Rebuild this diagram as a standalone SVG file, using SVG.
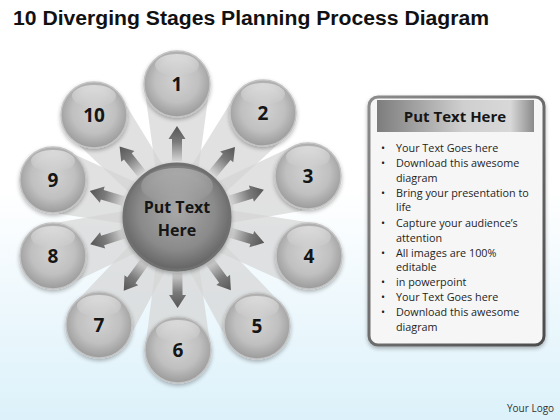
<svg xmlns="http://www.w3.org/2000/svg" xmlns:xlink="http://www.w3.org/1999/xlink" width="560" height="420" viewBox="0 0 560 420">
  <defs>
    <linearGradient id="bg" x1="0" y1="0" x2="0" y2="1">
      <stop offset="0" stop-color="#ffffff"/>
      <stop offset="0.45" stop-color="#ffffff"/>
      <stop offset="1" stop-color="#dcf1fa"/>
    </linearGradient>
    <radialGradient id="ball" cx="0.5" cy="0.45" r="0.55">
      <stop offset="0" stop-color="#d2d2d2"/>
      <stop offset="0.6" stop-color="#c0c0c0"/>
      <stop offset="0.9" stop-color="#a4a4a4"/>
      <stop offset="1" stop-color="#9a9a9a"/>
    </radialGradient>
    <radialGradient id="hub" cx="0.5" cy="0.45" r="0.6">
      <stop offset="0" stop-color="#a8a8a8"/>
      <stop offset="0.6" stop-color="#8a8a8a"/>
      <stop offset="0.9" stop-color="#666666"/>
      <stop offset="1" stop-color="#555555"/>
    </radialGradient>
    <linearGradient id="shine" x1="0" y1="0" x2="0" y2="1">
      <stop offset="0" stop-color="#ffffff" stop-opacity="0.5"/>
      <stop offset="1" stop-color="#ffffff" stop-opacity="0"/>
    </linearGradient>
    <linearGradient id="arrowGrad" x1="56" y1="0" x2="91" y2="0" gradientUnits="userSpaceOnUse">
      <stop offset="0" stop-color="#d4d4d4"/>
      <stop offset="0.55" stop-color="#7a7a7a"/>
      <stop offset="1" stop-color="#555555"/>
    </linearGradient>
    <linearGradient id="header" x1="0" y1="0" x2="1" y2="0">
      <stop offset="0" stop-color="#7d7d7d"/>
      <stop offset="0.55" stop-color="#cfcfcf"/>
      <stop offset="0.85" stop-color="#d8d8d8"/>
      <stop offset="1" stop-color="#8a8a8a"/>
    </linearGradient>
    <linearGradient id="frame" x1="0" y1="0" x2="1" y2="1">
      <stop offset="0" stop-color="#8c8c8c"/>
      <stop offset="1" stop-color="#4d4d4d"/>
    </linearGradient>
    <filter id="shadow" x="-30%" y="-30%" width="160%" height="160%">
      <feGaussianBlur in="SourceAlpha" stdDeviation="2"/>
      <feOffset dx="0" dy="2" result="b"/>
      <feComponentTransfer><feFuncA type="linear" slope="0.3"/></feComponentTransfer>
      <feMerge><feMergeNode/><feMergeNode in="SourceGraphic"/></feMerge>
    </filter>
    <path id="arrow" d="M56,-5 L78,-5 L78,-8.5 L91,0 L78,8.5 L78,5 L56,5 Z" fill="url(#arrowGrad)"/>
    <polygon id="beam" points="0,-15 133,-33 133,33 0,15"/>
    <style>
      .beam { fill: #d4d4d4; fill-opacity: 0.7; }
      .ball { fill: url(#ball); stroke: #c4c4c4; stroke-width: 1.5; filter: url(#shadow); }
      .hl { fill: url(#shine); }
      .num { font-family: "Open Sans", "Liberation Sans", sans-serif; font-weight: bold; font-size: 19px; fill: #151515; text-anchor: middle; }
      .hubtxt { font-family: "Open Sans", "Liberation Sans", sans-serif; font-weight: bold; font-size: 16px; fill: #151515; text-anchor: middle; }
      .body { font-family: "Open Sans", "Liberation Sans", sans-serif; font-size: 10.8px; fill: #1e1e1e; }
    </style>
  </defs>

  <rect width="560" height="420" fill="url(#bg)"/>

  <text x="13" y="25" font-family="'Liberation Sans', Arial, sans-serif" font-weight="bold" font-size="20" fill="#111111" textLength="476" lengthAdjust="spacingAndGlyphs">10 Diverging Stages Planning Process Diagram</text>

  <g id="connectors">
    <g id="beams">
      <use href="#beam" class="beam" transform="translate(177,217) rotate(-90)"/>
      <use href="#beam" class="beam" transform="translate(177,217) rotate(-50.4)"/>
      <use href="#beam" class="beam" transform="translate(177,217) rotate(-17.4)"/>
      <use href="#beam" class="beam" transform="translate(177,217) rotate(16.5)"/>
      <use href="#beam" class="beam" transform="translate(177,217) rotate(53.7)"/>
      <use href="#beam" class="beam" transform="translate(177,217) rotate(89.6)"/>
      <use href="#beam" class="beam" transform="translate(177,217) rotate(125.8)"/>
      <use href="#beam" class="beam" transform="translate(177,217) rotate(162.5)"/>
      <use href="#beam" class="beam" transform="translate(177,217) rotate(196.6)"/>
      <use href="#beam" class="beam" transform="translate(177,217) rotate(230.9)"/>
    </g>
    <g id="arrows">
      <use href="#arrow" transform="translate(177,217) rotate(-90)"/>
      <use href="#arrow" transform="translate(177,217) rotate(-50.4)"/>
      <use href="#arrow" transform="translate(177,217) rotate(-17.4)"/>
      <use href="#arrow" transform="translate(177,217) rotate(16.5)"/>
      <use href="#arrow" transform="translate(177,217) rotate(53.7)"/>
      <use href="#arrow" transform="translate(177,217) rotate(89.6)"/>
      <use href="#arrow" transform="translate(177,217) rotate(125.8)"/>
      <use href="#arrow" transform="translate(177,217) rotate(162.5)"/>
      <use href="#arrow" transform="translate(177,217) rotate(196.6)"/>
      <use href="#arrow" transform="translate(177,217) rotate(230.9)"/>
    </g>
  </g>

  <g id="hub">
    <circle cx="177" cy="217" r="53" fill="url(#hub)" stroke="#6f6f6f" stroke-width="3" filter="url(#shadow)"/>
    <ellipse cx="177" cy="186" rx="36" ry="18" fill="url(#shine)" opacity="0.6"/>
    <text class="hubtxt" x="177" y="213">Put Text</text>
    <text class="hubtxt" x="177" y="236">Here</text>
  </g>

  <g id="node1"><circle class="ball" cx="177" cy="84" r="33"/><ellipse class="hl" cx="177" cy="65" rx="22" ry="11"/><text class="num" x="177" y="91">1</text></g>
  <g id="node2"><circle class="ball" cx="263" cy="113" r="33"/><ellipse class="hl" cx="263" cy="94" rx="22" ry="11"/><text class="num" x="263" y="120">2</text></g>
  <g id="node3"><circle class="ball" cx="308" cy="176" r="33"/><ellipse class="hl" cx="308" cy="157" rx="22" ry="11"/><text class="num" x="308" y="183">3</text></g>
  <g id="node4"><circle class="ball" cx="309" cy="256" r="33"/><ellipse class="hl" cx="309" cy="237" rx="22" ry="11"/><text class="num" x="309" y="263">4</text></g>
  <g id="node5"><circle class="ball" cx="257" cy="326" r="33"/><ellipse class="hl" cx="257" cy="307" rx="22" ry="11"/><text class="num" x="257" y="333">5</text></g>
  <g id="node6"><circle class="ball" cx="178" cy="350" r="33"/><ellipse class="hl" cx="178" cy="331" rx="22" ry="11"/><text class="num" x="178" y="357">6</text></g>
  <g id="node7"><circle class="ball" cx="99" cy="325" r="33"/><ellipse class="hl" cx="99" cy="306" rx="22" ry="11"/><text class="num" x="99" y="332">7</text></g>
  <g id="node8"><circle class="ball" cx="53" cy="256" r="33"/><ellipse class="hl" cx="53" cy="237" rx="22" ry="11"/><text class="num" x="53" y="263">8</text></g>
  <g id="node9"><circle class="ball" cx="53" cy="180" r="33"/><ellipse class="hl" cx="53" cy="161" rx="22" ry="11"/><text class="num" x="53" y="187">9</text></g>
  <g id="node10"><circle class="ball" cx="94" cy="115" r="33"/><ellipse class="hl" cx="94" cy="96" rx="22" ry="11"/><text class="num" x="94" y="122">10</text></g>

  <g id="panel">
    <rect x="369" y="97" width="175" height="248" rx="9" fill="#f6f6f6" stroke="url(#frame)" stroke-width="3" filter="url(#shadow)"/>
    <rect x="377" y="100" width="157" height="32" fill="url(#header)"/>
    <text x="455" y="122" font-family="'Open Sans', 'Liberation Sans', sans-serif" font-weight="bold" font-size="15" fill="#151515" text-anchor="middle">Put Text Here</text>
    <g class="body">
      <text x="381" y="152">•</text><text x="396" y="152">Your Text Goes here</text>
      <text x="381" y="167">•</text><text x="396" y="167">Download this awesome</text>
      <text x="396" y="182">diagram</text>
      <text x="381" y="197">•</text><text x="396" y="197">Bring your presentation to</text>
      <text x="396" y="211">life</text>
      <text x="381" y="227">•</text><text x="396" y="227">Capture your audience’s</text>
      <text x="396" y="242">attention</text>
      <text x="381" y="257">•</text><text x="396" y="257">All images are 100%</text>
      <text x="396" y="271">editable</text>
      <text x="381" y="286">•</text><text x="396" y="286">in powerpoint</text>
      <text x="381" y="301">•</text><text x="396" y="301">Your Text Goes here</text>
      <text x="381" y="316">•</text><text x="396" y="316">Download this awesome</text>
      <text x="396" y="331">diagram</text>
    </g>
  </g>

  <text x="507" y="412" font-family="'Open Sans', 'Liberation Sans', sans-serif" font-size="10" fill="#333333">Your Logo</text>
</svg>
